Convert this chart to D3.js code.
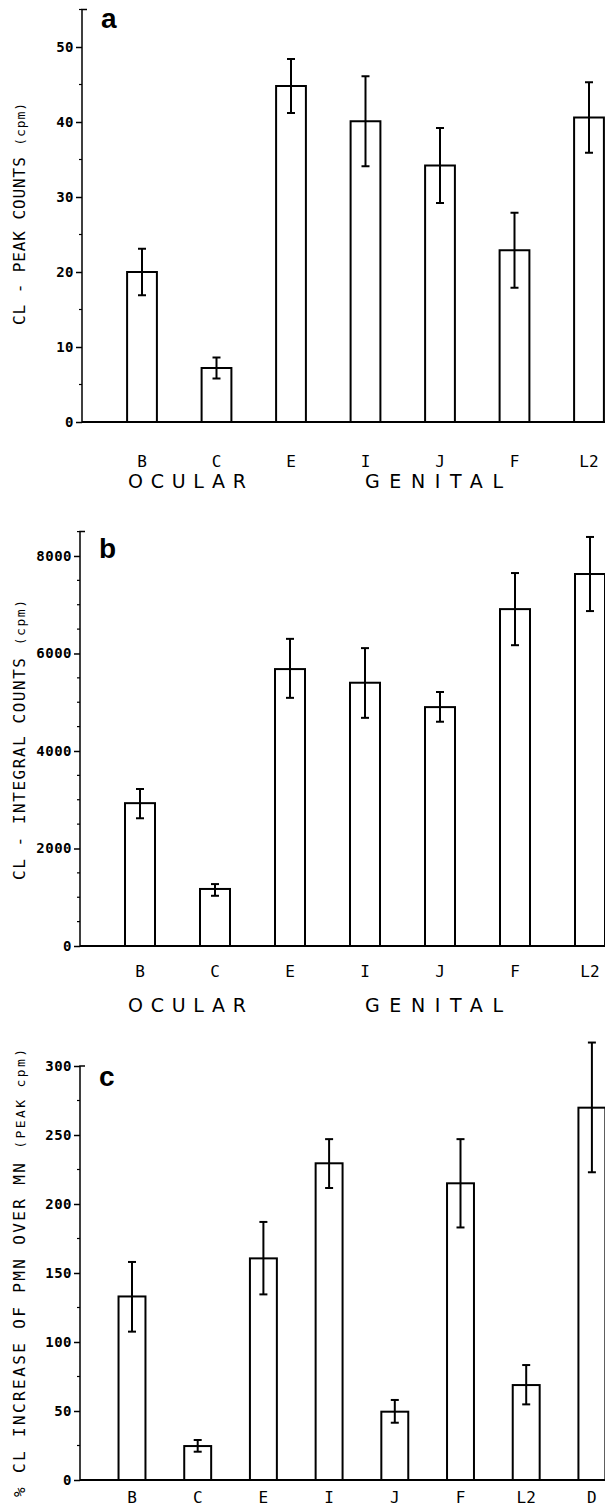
<!DOCTYPE html>
<meta charset="utf-8">
<html>
<head>
<script src="https://d3js.org/d3.v7.min.js"></script>
<style>
  body { margin: 0; background: #fff; }
  svg { display: block; }
  .ticklab { font-family: "DejaVu Sans Mono", monospace; font-weight: bold; font-size: 14px; letter-spacing: 0.5px; }
  .xlab { font-family: "DejaVu Sans Mono", monospace; font-size: 16px; }
  .group { font-family: "DejaVu Sans", sans-serif; font-size: 19px; }
  .ytitle { font-family: "DejaVu Sans Mono", monospace; font-size: 16px; }
  .letter { font-family: "Liberation Sans", Arial, sans-serif; font-weight: bold; font-size: 28px; }
</style>
</head>
<body>
<script>

// categories
var catsAB = ["B", "C", "E", "I", "J", "F", "L2"];
var catsC = ["B", "C", "E", "I", "J", "F", "L2", "D"];

// panel a: CL peak counts (cpm)
var peakVals = [20, 7.2, 44.8, 40.1, 34.2, 22.9, 40.6];
var peakLo = [16.9, 5.8, 41.2, 34.1, 29.2, 17.9, 35.9];
var peakHi = [23.1, 8.6, 48.4, 46.1, 39.2, 27.9, 45.3];
var peakTicks = [0, 10, 20, 30, 40, 50];

// panel b: CL integral counts (cpm)
var integralVals = [2930, 1170, 5680, 5400, 4900, 6910, 7630];
var integralLo = [2620, 1030, 5090, 4680, 4600, 6170, 6870];
var integralHi = [3220, 1270, 6300, 6110, 5210, 7650, 8390];
var integralTicks = [0, 2000, 4000, 6000, 8000];

// panel c: % CL increase of PMN over MN
var increaseVals = [133, 24.6, 160.6, 229.5, 49.5, 215, 68.8, 269.8];
var increaseLo = [107.5, 20.5, 134.5, 211.6, 41.5, 183, 54.8, 223];
var increaseHi = [158, 29, 187, 247, 58, 247, 83.3, 317];
var increaseTicks = [0, 50, 100, 150, 200, 250, 300];

var width = 605, height = 1509;

var svg = d3.select("body").append("svg")
  .attr("width", width)
  .attr("height", height);

// draw one panel
function drawPanel(p) {
  var g = svg.append("g");

  var y = d3.scaleLinear().domain([0, p.top]).range([p.y0, p.yTop]);
  var x = d3.scaleBand().domain(p.cats)
    .range([p.xStart, p.xStart + p.step * p.cats.length])
    .paddingInner(p.pad).paddingOuter(p.pad / 2);

  // x axis line
  g.append("line")
    .attr("x1", p.axisX).attr("x2", width)
    .attr("y1", y(0)).attr("y2", y(0))
    .attr("stroke", "#000").attr("stroke-width", 2);

  // y axis: majors with labels
  var yAxis = d3.axisLeft(y).tickValues(p.ticks).tickSize(6).tickPadding(2)
    .tickFormat(d3.format("d"));
  var ax = g.append("g").attr("transform", "translate(" + p.axisX + ",0)").call(yAxis);
  ax.select(".domain").remove();
  ax.selectAll("line").attr("stroke", "#000").attr("stroke-width", 1.5);
  ax.selectAll("text").attr("class", "ticklab").attr("fill", "#000");

  // minor ticks
  var minor = d3.range(0, p.top + 1e-9, p.minor).filter(function(v) { return p.ticks.indexOf(v) < 0; });
  g.selectAll(".minor").data(minor).enter().append("line")
    .attr("x1", p.axisX - 3).attr("x2", p.axisX)
    .attr("y1", function(d) { return y(d); }).attr("y2", function(d) { return y(d); })
    .attr("stroke", "#000").attr("stroke-width", 1.2);

  // axis line with bracket at top
  g.append("path")
    .attr("d", "M" + (p.axisX + 5) + "," + y(p.top) + "H" + p.axisX + "V" + y(0))
    .attr("fill", "none").attr("stroke", "#000").attr("stroke-width", 1.5);

  // bars
  g.selectAll(".bar").data(p.vals).enter().append("rect")
    .attr("x", function(d, i) { return x(p.cats[i]); })
    .attr("y", function(d) { return y(d); })
    .attr("width", x.bandwidth())
    .attr("height", function(d) { return y(0) - y(d); })
    .attr("fill", "#fff").attr("stroke", "#000").attr("stroke-width", 2);

  // error bars
  var eb = g.selectAll(".err").data(p.vals).enter().append("g");
  eb.append("line")
    .attr("x1", function(d, i) { return x(p.cats[i]) + x.bandwidth() / 2; })
    .attr("x2", function(d, i) { return x(p.cats[i]) + x.bandwidth() / 2; })
    .attr("y1", function(d, i) { return y(p.lo[i]); })
    .attr("y2", function(d, i) { return y(p.hi[i]); })
    .attr("stroke", "#000").attr("stroke-width", 2);
  [p.lo, p.hi].forEach(function(arr) {
    eb.append("line")
      .attr("x1", function(d, i) { return x(p.cats[i]) + x.bandwidth() / 2 - 4; })
      .attr("x2", function(d, i) { return x(p.cats[i]) + x.bandwidth() / 2 + 4; })
      .attr("y1", function(d, i) { return y(arr[i]); })
      .attr("y2", function(d, i) { return y(arr[i]); })
      .attr("stroke", "#000").attr("stroke-width", 2);
  });

  // category labels
  g.selectAll(".xlab").data(p.cats).enter().append("text")
    .attr("class", "xlab")
    .attr("x", function(d) { return x(d) + x.bandwidth() / 2; })
    .attr("y", p.labY)
    .attr("text-anchor", "middle")
    .attr("dominant-baseline", "central")
    .text(function(d) { return d; });

  // group labels
  if (p.groups) {
    p.groups.forEach(function(gr) {
      g.append("text").attr("class", "group")
        .attr("x", gr.x).attr("y", p.groupY)
        .attr("dominant-baseline", "central")
        .attr("fill", "#000")
        .attr("textLength", gr.len).attr("lengthAdjust", "spacing")
        .text(gr.name);
    });
  }

  // rotated y title
  var t = g.append("text").attr("class", "ytitle")
    .attr("transform", "translate(25," + p.titleC + ") rotate(-90)")
    .attr("text-anchor", "middle")
    .attr("textLength", p.titleLen).attr("lengthAdjust", "spacing");
  t.append("tspan").text(p.title);
  t.append("tspan").attr("font-size", "13px").text(p.unit);

  // panel letter
  g.append("text").attr("class", "letter")
    .attr("x", p.axisX + 19).attr("y", p.letterY)
    .text(p.letter);
}

drawPanel({
  cats: catsAB, vals: peakVals, lo: peakLo, hi: peakHi, ticks: peakTicks,
  top: 55, minor: 5, y0: 422, yTop: 9.5, axisX: 82,
  xStart: 104.75, step: 74.5, pad: 0.6,
  labY: 461, groupY: 481,
  groups: [{ name: "OCULAR", x: 128, len: 118 }, { name: "GENITAL", x: 365, len: 138 }],
  title: "CL - PEAK COUNTS ", unit: "(cpm)", titleC: 214, titleLen: 222,
  letter: "a", letterY: 28
});

drawPanel({
  cats: catsAB, vals: integralVals, lo: integralLo, hi: integralHi, ticks: integralTicks,
  top: 8500, minor: 500, y0: 946, yTop: 531.6, axisX: 80,
  xStart: 102.5, step: 75, pad: 0.6,
  labY: 971, groupY: 1005,
  groups: [{ name: "OCULAR", x: 128, len: 118 }, { name: "GENITAL", x: 365, len: 138 }],
  title: "CL - INTEGRAL COUNTS ", unit: "(cpm)", titleC: 740, titleLen: 280,
  letter: "b", letterY: 558
});

drawPanel({
  cats: catsC, vals: increaseVals, lo: increaseLo, hi: increaseHi, ticks: increaseTicks,
  top: 300, minor: 25, y0: 1480, yTop: 1066, axisX: 80,
  xStart: 99.15, step: 65.7, pad: 0.59,
  labY: 1497, groups: null,
  title: "% CL INCREASE OF PMN OVER MN ", unit: "(PEAK cpm)", titleC: 1273, titleLen: 448,
  letter: "c", letterY: 1086
});

</script>
</body>
</html>
